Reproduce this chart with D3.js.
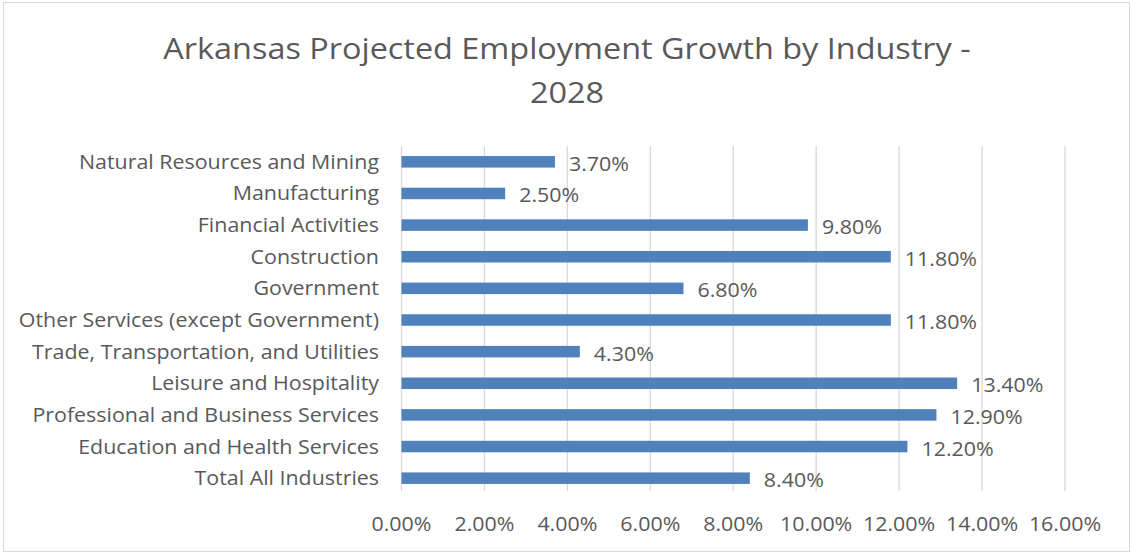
<!DOCTYPE html>
<html><head><meta charset="utf-8">
<script src="https://cdn.jsdelivr.net/npm/d3@7"></script>
<style>
html,body{margin:0;padding:0;background:#fff;}
text{font-family:"Open Sans",sans-serif;fill:#595959;}
</style></head>
<body><svg id="c" width="1132" height="554"></svg>
<script>
const categories = ["Natural Resources and Mining","Manufacturing","Financial Activities","Construction","Government","Other Services (except Government)","Trade, Transportation, and Utilities","Leisure and Hospitality","Professional and Business Services","Education and Health Services","Total All Industries"];
const values = [3.7,2.5,9.8,11.8,6.8,11.8,4.3,13.4,12.9,12.2,8.4];
const tickValues = [0,2,4,6,8,10,12,14,16];
const titleLines = ["Arkansas Projected Employment Growth by Industry -","2028"];

const svg = d3.select("#c");
svg.append("rect").attr("x",3.5).attr("y",2.5).attr("width",1126).attr("height",549)
  .attr("fill","#fff").attr("stroke","#D9D9D9").attr("stroke-width",1);

const x = d3.scaleLinear().domain([0,16]).range([401.5,1065]);
const y = d3.scaleBand().domain(categories).range([146,494]).paddingInner(0.636).paddingOuter(0.318);
const SX = 1.07;

const g = svg.append("g");
g.selectAll("line.grid").data(tickValues).join("line").attr("class","grid")
  .attr("x1",d=>x(d)).attr("x2",d=>x(d)).attr("y1",146).attr("y2",491)
  .attr("stroke","#D9D9D9").attr("stroke-width",1.3);

g.selectAll("rect.bar").data(values).join("rect").attr("class","bar")
  .attr("x",x(0)).attr("y",(d,i)=>y(categories[i]))
  .attr("width",d=>x(d)-x(0)).attr("height",y.bandwidth())
  .attr("fill","#4F81BD");

g.selectAll("text.val").data(values).join("text").attr("class","val")
  .attr("transform",(d,i)=>`translate(${x(d)+14},${y(categories[i])+y.bandwidth()/2+2}) scale(${SX},1)`)
  .attr("dy","0.35em").attr("font-size",20).text(d=>d.toFixed(2)+"%");

g.selectAll("text.cat").data(categories).join("text").attr("class","cat")
  .attr("transform",d=>`translate(379,${y(d)+y.bandwidth()/2}) scale(${SX},1)`)
  .attr("dy","0.35em").attr("text-anchor","end").attr("font-size",20).text(d=>d);

g.selectAll("text.tick").data(tickValues).join("text").attr("class","tick")
  .attr("transform",d=>`translate(${x(d)},524) scale(${SX},1)`)
  .attr("dy","0.35em").attr("text-anchor","middle").attr("font-size",20).text(d=>d.toFixed(2)+"%");

svg.selectAll("text.title").data(titleLines).join("text").attr("class","title")
  .attr("transform",(d,i)=>`translate(567,${59+i*44}) scale(1.08,1)`)
  .attr("text-anchor","middle").attr("font-size",30).text(d=>d);
</script></body></html>
